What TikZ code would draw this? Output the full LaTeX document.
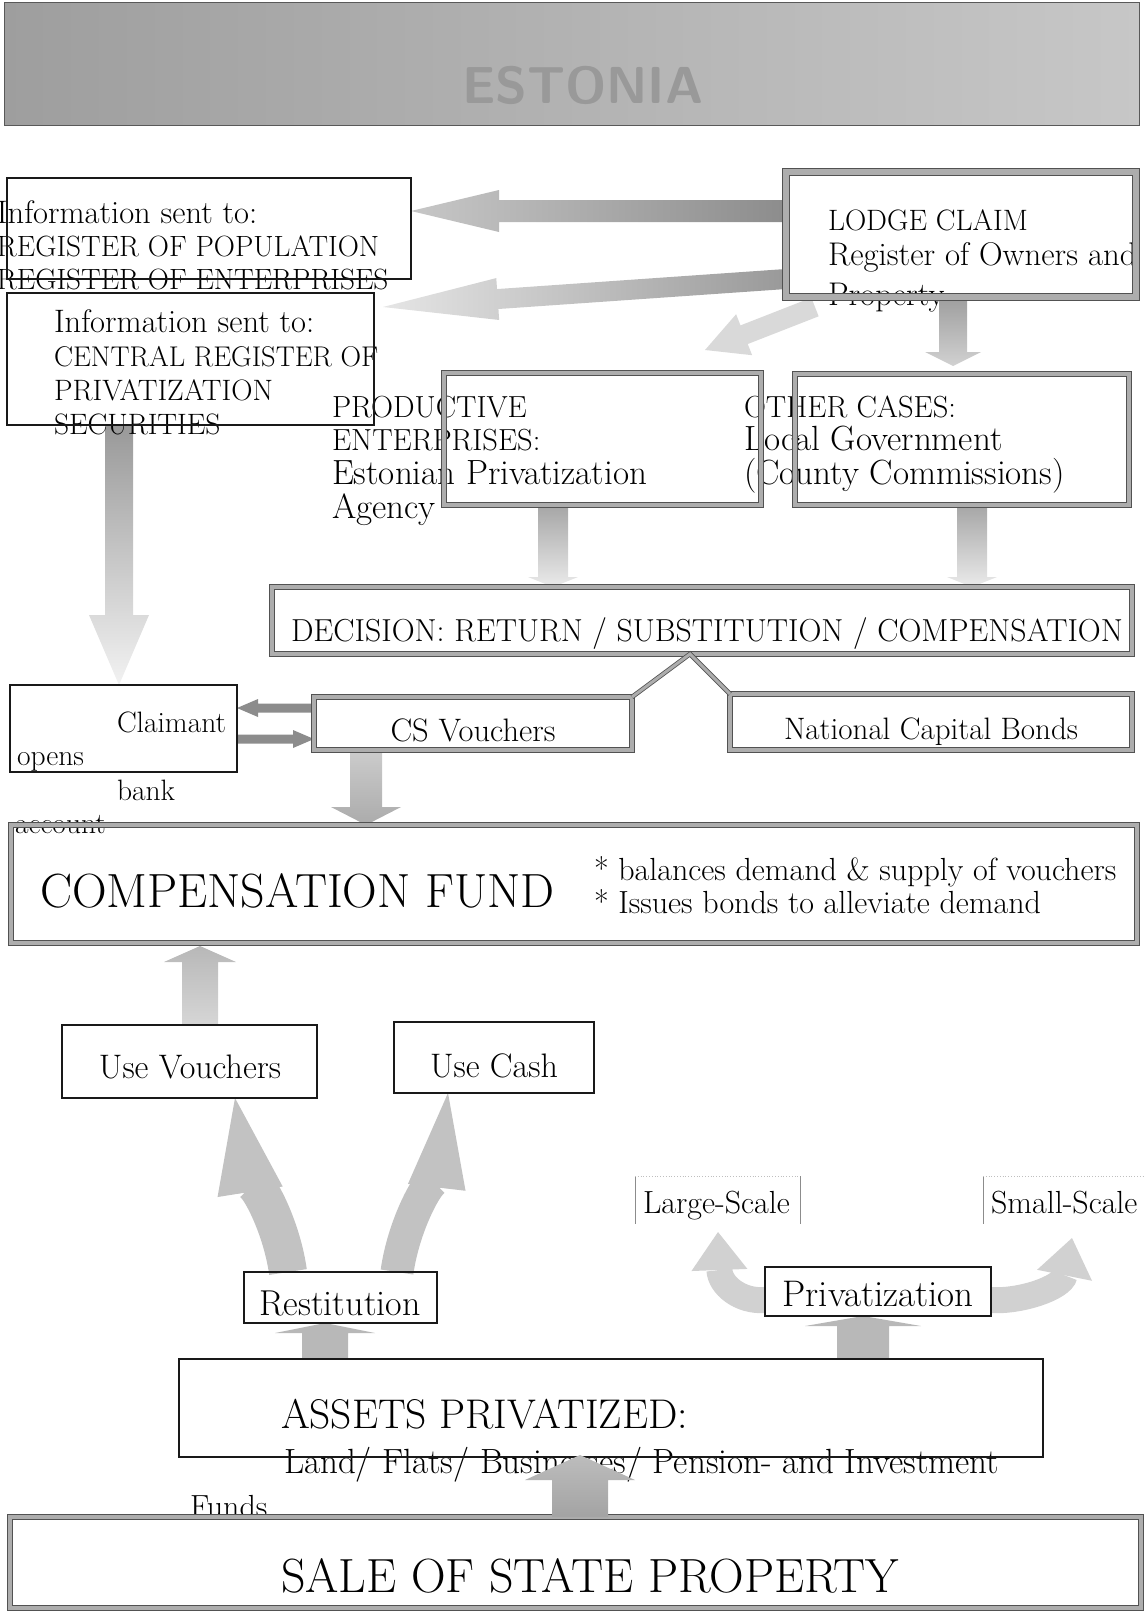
\documentclass[tikz,border=0pt]{standalone}
\usepackage{fontspec}
\usetikzlibrary{calc,arrows.meta}
\pgfdeclarelayer{back}
\pgfdeclarelayer{mid}
\pgfdeclarelayer{front}
\pgfsetlayers{back,mid,main,front}
\newcommand\fsz[1]{\fontsize{#1}{#1}\selectfont}
\newcommand\Bx[6]{\node[#2, minimum width={(#5-#3)*1pt}, minimum height={(#6-#4)*1pt}] (#1) at ({(#3+#5)/2},{(#4+#6)/2}) {};}
\newcommand\BArr[6]{%
  \path ($(#3)!#6!(#2)$) coordinate (hb);
  \path[#1] ($(#2)!#4!90:(#3)$) -- ($(hb)!#4!90:(#3)$) -- ($(hb)!#5!90:(#3)$) -- (#3)
    -- ($(hb)!#5!-90:(#3)$) -- ($(hb)!#4!-90:(#3)$) -- ($(#2)!#4!-90:(#3)$) -- cycle;}
\tikzset{
  plainbox/.style={draw=black!90, line width=1.3pt, inner sep=0pt, outer sep=0pt},
  dblbox/.style={draw=black!68, line width=0.8pt, double=black!32, double distance=3.8pt, inner sep=0pt, outer sep=0pt},
  ghost/.style={inner sep=0pt, outer sep=0pt},
  txt/.style={inner sep=0pt, outer sep=0pt, anchor=base west, text=black},
  ctxt/.style={inner sep=0pt, outer sep=0pt, anchor=base, text=black},
  curvarr/.style={draw=black!24, line width=#1},
  roof/.style={draw=black!68, line width=0.8pt, double=black!32, double distance=3pt, line join=miter},
}
\begin{document}
\begin{tikzpicture}[x=1pt,y=-1pt]
\useasboundingbox (0,0) rectangle (1143,1611);
% ---------- boxes ----------
\Bx{boxA}{plainbox}{7}{178}{411}{279}
\Bx{boxB}{plainbox}{7}{293}{374}{425}
\Bx{lodge}{dblbox, double distance=6pt}{786}{172}{1136}{297}
\Bx{prod}{dblbox}{444}{373}{761}{505}
\Bx{other}{dblbox}{795}{374}{1129}{505}
\Bx{decision}{dblbox}{272}{587}{1132}{654}
\Bx{claimant}{plainbox}{10}{685}{237}{772}
\Bx{csv}{dblbox}{314}{697}{632}{750}
\Bx{ncb}{dblbox}{730}{694}{1132}{750}
\Bx{fund}{dblbox}{11}{825}{1137}{943}
\Bx{usev}{plainbox}{62}{1025}{317}{1098}
\Bx{usec}{plainbox}{394}{1022}{594}{1093}
\Bx{lsbox}{ghost}{635}{1176}{800}{1224}
\Bx{ssbox}{ghost}{983}{1176}{1160}{1224}
\Bx{rest}{plainbox}{244}{1272}{437}{1323}
\Bx{priv}{plainbox}{765}{1267}{991}{1316}
\Bx{assets}{plainbox}{179}{1359}{1043}{1457}
\Bx{sale}{dblbox}{10}{1517}{1141}{1608}
% roof connector
\coordinate (apexx) at (690,0);
\coordinate (apex) at (apexx |- decision.south);
\draw[roof] (csv.north east) -- (apex) -- (ncb.north west);
% scale labels
\draw[black!45, line width=0.8pt] (lsbox.north west) -- (lsbox.south west);
\draw[black!45, line width=0.8pt] (lsbox.north east) -- (lsbox.south east);
\draw[black!25, dotted, line width=0.8pt] (lsbox.north west) -- (lsbox.north east);
\draw[black!45, line width=0.8pt] (ssbox.north west) -- (ssbox.south west);
\draw[black!25, dotted, line width=0.8pt] (ssbox.north west) -- (ssbox.north east);

% ---------- background: banner and arrows ----------
\begin{pgfonlayer}{back}
\shade[left color=black!38, right color=black!22] (4,3) rectangle (1139,125);
\draw[black!65, line width=1pt] (4,3) rectangle (1139,125);
\node[txt, font=\sffamily\bfseries\fsz{52}, text=black!40] (title) at (462,103) {ESTONIA};

\coordinate (a1s) at (786,211);
\coordinate (a1e) at (a1s -| boxA.east);
\BArr{left color=black!22, right color=black!45}{a1s}{a1e}{11pt}{21pt}{88pt}
\coordinate (a2s) at (786,279);
\coordinate (a2e) at (383,307);
\BArr{left color=black!10, right color=black!40}{a2s}{a2e}{10pt}{21pt}{115pt}
\coordinate (a3s) at (815,307);
\coordinate (a3e) at (705,350);
\BArr{fill=black!15}{a3s}{a3e}{10pt}{22pt}{42pt}
\coordinate (a4x) at (953,0);
\coordinate (a4s) at (a4x |- lodge.south);
\coordinate (a4e) at ($(a4x |- other.north)+(0,-8)$);
\BArr{top color=black!38, bottom color=black!18}{a4s}{a4e}{14pt}{28pt}{14pt}
\coordinate (a5x) at (553,0);
\coordinate (a5s) at (a5x |- prod.south);
\coordinate (a5e) at (a5x |- decision.north);
\BArr{top color=black!35, bottom color=black!8}{a5s}{a5e}{15pt}{25pt}{10pt}
\coordinate (a6x) at (972,0);
\coordinate (a6s) at (a6x |- other.south);
\coordinate (a6e) at (a6x |- decision.north);
\BArr{top color=black!35, bottom color=black!8}{a6s}{a6e}{15pt}{25pt}{10pt}
\coordinate (a7x) at (119,0);
\coordinate (a7s) at (a7x |- boxB.south);
\coordinate (a7e) at (a7x |- claimant.north);
\BArr{top color=black!40, bottom color=black!5}{a7s}{a7e}{14pt}{30pt}{70pt}
\coordinate (a8y) at (0,708);
\coordinate (a8s) at (a8y -| csv.west);
\coordinate (a8e) at (a8y -| claimant.east);
\BArr{fill=black!45}{a8s}{a8e}{4.5pt}{9pt}{21pt}
\coordinate (a9y) at (0,739);
\coordinate (a9s) at (a9y -| claimant.east);
\coordinate (a9e) at (a9y -| csv.west);
\BArr{fill=black!45}{a9s}{a9e}{4.5pt}{9pt}{21pt}
\coordinate (a10x) at (366,0);
\coordinate (a10s) at (a10x |- csv.south);
\coordinate (a10e) at (a10x |- fund.north);
\BArr{top color=black!20, bottom color=black!33}{a10s}{a10e}{16pt}{35pt}{18pt}
\coordinate (a11x) at (200,0);
\coordinate (a11s) at (a11x |- usev.north);
\coordinate (a11e) at ($(a11x |- fund.south)+(0,3)$);
\BArr{top color=black!28, bottom color=black!16}{a11s}{a11e}{18pt}{36pt}{16pt}
\coordinate (a12x) at (325,0);
\coordinate (a12s) at (a12x |- assets.north);
\coordinate (a12e) at (a12x |- rest.south);
\BArr{fill=black!28}{a12s}{a12e}{23pt}{50pt}{10pt}
\coordinate (a13x) at (863,0);
\coordinate (a13s) at (a13x |- assets.north);
\coordinate (a13e) at (a13x |- priv.south);
\BArr{fill=black!28}{a13s}{a13e}{26pt}{58pt}{10pt}

% curved arrows
\coordinate (c1s) at ($(rest.north west)+(44,0)$);
\coordinate (c1e) at ($(usev.south east)+(-82,0)$);
\draw[curvarr=38pt, -{Triangle[length=95pt, width=66pt, line width=0pt]}] (c1s) .. controls (280,1215) and (245,1160) .. (c1e);
\coordinate (c2s) at ($(rest.north west)+(153,0)$);
\coordinate (c2e) at ($(usec.south west)+(54,0)$);
\draw[curvarr=33pt, -{Triangle[length=95pt, width=58pt, line width=0pt]}] (c2s) .. controls (405,1215) and (440,1160) .. (c2e);
\coordinate (c3s) at ($(priv.south west)+(0,-16)$);
\coordinate (c3e) at (718,1232);
\draw[curvarr=26pt, draw=black!18, -{Triangle[length=38pt, width=56pt, line width=0pt]}] (c3s) .. controls (740,1302) and (720,1285) .. (c3e);
\coordinate (c4s) at ($(priv.south east)+(0,-16)$);
\coordinate (c4e) at (1072,1238);
\draw[curvarr=26pt, draw=black!18, -{Triangle[length=38pt, width=56pt, line width=0pt]}] (c4s) .. controls (1020,1302) and (1062,1288) .. (c4e);
\end{pgfonlayer}

% ---------- texts ----------
\begin{pgfonlayer}{mid}
\node[txt, font=\fsz{32.5}] (tA1) at (-3,223) {Information sent to:};
\node[txt, font=\fsz{29.3}] (tA2) at (-3,256) {REGISTER OF POPULATION};
\node[txt, font=\fsz{29.3}] (tA3) at (-3,289) {REGISTER OF ENTERPRISES};
\node[txt, font=\fsz{32.5}] (tB1) at (54,332) {Information sent to:};
\node[txt, font=\fsz{28.5}] (tB2) at (54,366) {CENTRAL REGISTER OF};
\node[txt, font=\fsz{29.5}] (tB3) at (54,400) {PRIVATIZATION};
\node[txt, font=\fsz{29.5}] (tB4) at (54,434) {SECURITIES};
\node[txt, font=\fsz{29.5}] (tL1) at (828,230) {LODGE CLAIM};
\node[txt, font=\fsz{32.8}] (tL2) at (828,265) {Register of Owners and};
\node[txt, font=\fsz{32.8}] (tL3) at (828,305) {Property};
\node[txt, font=\fsz{30.5}] (tP1) at (332,417) {PRODUCTIVE};
\node[txt, font=\fsz{30.5}] (tP2) at (332,450) {ENTERPRISES:};
\node[txt, font=\fsz{35}] (tP3) at (332,484) {Estonian Privatization};
\node[txt, font=\fsz{35}] (tP4) at (332,518) {Agency};
\node[txt, font=\fsz{30.5}] (tO1) at (744,417) {OTHER CASES:};
\node[txt, font=\fsz{35}] (tO2) at (744,450) {Local Government};
\node[txt, font=\fsz{35}] (tO3) at (744,484) {(County Commissions)};
\node[txt, font=\fsz{31.8}] (tD) at (291,641) {DECISION: RETURN / SUBSTITUTION / COMPENSATION};
\node[txt, font=\fsz{29.5}] (tC1) at (117,732) {Claimant};
\node[txt, font=\fsz{29.5}] (tC2) at (17,765) {opens};
\node[txt, font=\fsz{29.5}] (tC3) at (117,800) {bank};
\node[txt, font=\fsz{29.5}] (tC4) at (15,833) {account};
\node[ctxt, font=\fsz{32.5}] (tCS) at ($(csv.center)+(0,18)$) {CS Vouchers};
\node[ctxt, font=\fsz{31}] (tN) at ($(ncb.center)+(0,17)$) {National Capital Bonds};
\node[txt, font=\fsz{48}] (tF) at (40,907) {COMPENSATION FUND};
\node[txt, font=\fsz{32}] (tF1) at (594,880) {* balances demand \& supply of vouchers};
\node[txt, font=\fsz{32}] (tF2) at (594,913) {* Issues bonds to alleviate demand};
\node[ctxt, font=\fsz{34}] (tUV) at (190,1078) {Use Vouchers};
\node[ctxt, font=\fsz{34}] (tUC) at (494,1077) {Use Cash};
\node[txt, font=\fsz{32}] (tLS) at (643,1213) {Large-Scale};
\node[txt, font=\fsz{32}] (tSS) at (991,1213) {Small-Scale};
\node[ctxt, font=\fsz{36}] (tR) at (340,1315) {Restitution};
\node[ctxt, font=\fsz{37}] (tPr) at (878,1306) {Privatization};
\node[txt, font=\fsz{41.5}] (tAs) at (281,1428) {ASSETS PRIVATIZED:};
\node[txt, font=\fsz{35}] (tAs2) at (284,1473) {Land/ Flats/ Businesses/ Pension- and Investment};
\node[txt, font=\fsz{32}] (tAs3) at (190,1517) {Funds};
\node[txt, font=\fsz{48}] (tS) at (281,1592) {SALE OF STATE PROPERTY};
\end{pgfonlayer}

% ---------- front ----------
\begin{pgfonlayer}{front}
\coordinate (a14x) at (580,0);
\coordinate (a14s) at (a14x |- sale.north);
\coordinate (a14e) at ($(a14x |- assets.south)+(0,-2)$);
\BArr{top color=black!26, bottom color=black!36}{a14s}{a14e}{28pt}{55pt}{25pt}
\end{pgfonlayer}
\end{tikzpicture}
\end{document}
